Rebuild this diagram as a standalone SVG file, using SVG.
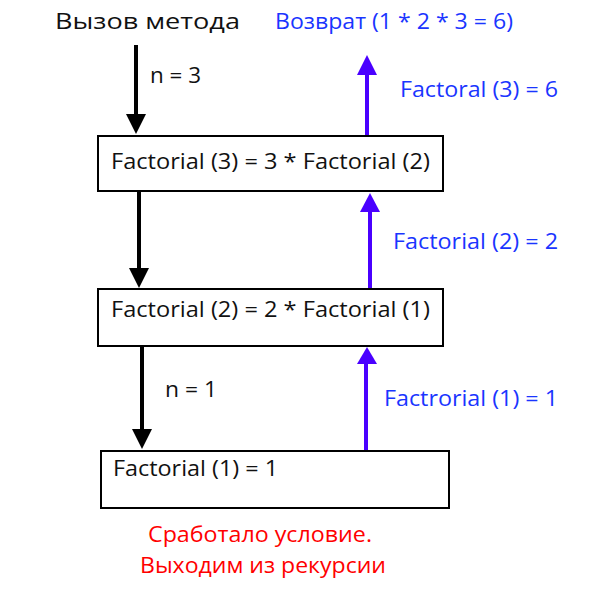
<svg xmlns="http://www.w3.org/2000/svg" width="596" height="593" viewBox="0 0 596 593">
<style>
text{font-family:"Open Sans","Noto Sans",sans-serif;font-size:22.5px}
.k{fill:#111}.b{fill:#1a35ff}.r{fill:#f00}
.box{fill:#fff;stroke:#000;stroke-width:2}
.down{stroke:#000;stroke-width:4;fill:none}
.up{stroke:#4a00ff;stroke-width:4;fill:none}
</style>
<rect width="596" height="593" fill="#fff"/>
<g id="connectors">
<line class="down" x1="136" y1="45" x2="136" y2="115"/>
<polygon points="126,114 146,114 136,134" fill="#000"/>
<line class="down" x1="139" y1="191" x2="139" y2="270"/>
<polygon points="129,268 149,268 139,288" fill="#000"/>
<line class="down" x1="142" y1="346" x2="142" y2="431"/>
<polygon points="132,429 152,429 142,449" fill="#000"/>
<line class="up" x1="367" y1="136" x2="367" y2="73"/>
<polygon points="357,75 377,75 367,55" fill="#4a00ff"/>
<line class="up" x1="370" y1="289" x2="370" y2="210"/>
<polygon points="360,212 380,212 370,193" fill="#4a00ff"/>
<line class="up" x1="366" y1="451" x2="366" y2="362"/>
<polygon points="357,364 377,364 367,347" fill="#4a00ff"/>
</g>
<g id="labels">
<text class="k" x="55" y="29" textLength="185" lengthAdjust="spacingAndGlyphs">Вызов метода</text>
<text class="b" x="275" y="29" textLength="238" lengthAdjust="spacingAndGlyphs">Возврат (1 * 2 * 3 = 6)</text>
<text class="k" x="150" y="83" textLength="51" lengthAdjust="spacingAndGlyphs">n = 3</text>
<text class="b" x="400" y="97" textLength="158" lengthAdjust="spacingAndGlyphs">Factoral (3) = 6</text>
<text class="b" x="393" y="249" textLength="165" lengthAdjust="spacingAndGlyphs">Factorial (2) = 2</text>
<text class="k" x="165" y="397" textLength="52" lengthAdjust="spacingAndGlyphs">n = 1</text>
<text class="b" x="384" y="406" textLength="174" lengthAdjust="spacingAndGlyphs">Factrorial (1) = 1</text>
<text class="r" x="148" y="542" textLength="224" lengthAdjust="spacingAndGlyphs">Сработало условие.</text>
<text class="r" x="140" y="573" textLength="246" lengthAdjust="spacingAndGlyphs">Выходим из рекурсии</text>
</g>
<g id="node1">
<rect class="box" x="98" y="136" width="345" height="55"/>
<text class="k" x="111" y="169" textLength="319" lengthAdjust="spacingAndGlyphs">Factorial (3) = 3 * Factorial (2)</text>
</g>
<g id="node2">
<rect class="box" x="98" y="289" width="345" height="57"/>
<text class="k" x="111" y="317" textLength="319" lengthAdjust="spacingAndGlyphs">Factorial (2) = 2 * Factorial (1)</text>
</g>
<g id="node3">
<rect class="box" x="101" y="451" width="348" height="57"/>
<text class="k" x="113" y="476" textLength="165" lengthAdjust="spacingAndGlyphs">Factorial (1) = 1</text>
</g>
</svg>
